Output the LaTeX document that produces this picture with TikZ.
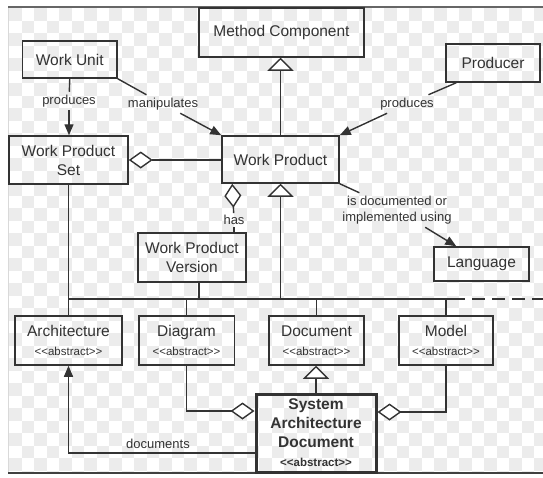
\documentclass[tikz,border=0pt]{standalone}
\usepackage{fontspec}
\setmainfont{Liberation Sans}
\usetikzlibrary{arrows.meta}
\definecolor{ink}{HTML}{333333}
\definecolor{chk}{HTML}{ECECEC}
\tikzset{
  box/.style={draw=ink, line width=1.5pt, text=ink, align=center, inner sep=0pt,
    font=\fontsize{15.5}{19}\selectfont},
  sadbox/.style={box, line width=3pt, font=\bfseries\fontsize{15.5}{19}\selectfont},
  lbl/.style={text=ink, align=center, inner sep=3pt, font=\fontsize{13}{16}\selectfont},
  conn/.style={draw=ink, line width=1.4pt},
  arr/.style={-{Triangle[length=11pt,width=9pt]}},
  inh/.style={-{Triangle[length=13pt,width=26pt,fill=white]}},
  aggr/.style={{Diamond[length=24pt,width=17pt,fill=white]}-},
}
\newcommand{\abst}{{\fontsize{11.5}{18}\selectfont <\kern0pt<abstract>\kern0pt>}}
\begin{document}
\begin{tikzpicture}[x=1pt,y=-1pt]
\useasboundingbox (0,0) rectangle (543,477);
% background checkerboard
\begin{scope}
  \clip (8,7) rectangle (543,473);
  \foreach \j in {0,...,37}{
    \foreach \i in {0,2,...,42}{
      \pgfmathsetmacro\xx{9+(\i+mod(\j,2))*12.5}
      \pgfmathsetmacro\yy{8+\j*12.5}
      \fill[chk] (\xx,\yy) rectangle ++(12.5,12.5);
    }
  }
\end{scope}
\draw[line width=0.8pt, black!15] (8,7) -- (8,473);
\draw[line width=1.5pt, black!60] (8,7) -- (543,7);
\draw[line width=1.5pt, black!75] (8,473) -- (543,473);

% boxes
\node[box, minimum width=165pt, minimum height=49pt] (mc) at (281.5,32.5) {Method Component};
\node[box, minimum width=94.5pt, minimum height=37pt] (wu) at (69.75,59.5) {Work Unit};
\node[box, minimum width=94pt, minimum height=38pt] (prod) at (493,63) {Producer};
\node[box, minimum width=117pt, minimum height=47pt] (wp) at (280.5,159.5) {Work Product};
\node[box, minimum width=119pt, minimum height=48pt] (wps) at (68.5,160) {Work Product\\Set};
\node[box, minimum width=108pt, minimum height=49pt] (wpv) at (192,257.5) {Work Product\\Version};
\node[box, minimum width=95pt, minimum height=34pt] (lang) at (481.5,264) {Language};
\node[box, minimum width=107pt, minimum height=49pt] (arch) at (68.5,340.5) {Architecture\\\abst};
\node[box, minimum width=95.5pt, minimum height=49pt] (diag) at (186.5,340.5) {Diagram\\\abst};
\node[box, minimum width=95pt, minimum height=49pt] (doc) at (316.5,340.5) {Document\\\abst};
\node[box, minimum width=94pt, minimum height=49pt] (model) at (446,340.5) {Model\\\abst};
\node[sadbox, minimum width=120pt, minimum height=78pt] (sad) at (316,433) {System\\Architecture\\Document\\\abst};

% labels
\node[lbl] (lprod1) at (69,101) {produces};
\node[lbl] (lmanip) at (163,104) {manipulates};
\node[lbl] (lprod2) at (407,104) {produces};
\node[lbl, inner sep=2pt] (lhas) at (234,220) {has};
\node[lbl] (ldoc) at (397,210) {is documented or\\implemented using};
\node[lbl] (ldocs) at (158,444) {documents};

% bus
\coordinate (busL) at (69,299);
\coordinate (busM) at (465,299);
\coordinate (busR) at (543,299);
\draw[conn] (busL) -- (busM);
\draw[conn, dash pattern=on 13pt off 7pt, dash phase=13pt] (busM) -- (busR);

% connectors
\draw[conn, inh] (wp.north) -- (wp.north |- mc.south);
\draw[conn] (wu.south) -- (lprod1);
\draw[conn, arr] (lprod1) -- (lprod1 |- wps.north);
\draw[conn] (wu.south east) -- (lmanip);
\draw[conn, arr] (lmanip) -- (wp.north west);
\draw[conn] ([xshift=11pt]prod.south west) -- (lprod2);
\draw[conn, arr] (lprod2) -- (wp.north east);
\draw[conn, aggr] (wps.east) -- (wps.east -| wp.west);
\draw[conn, aggr] ([xshift=11pt]wp.south west) -- (lhas);
\draw[conn] (lhas) -- (lhas |- wpv.north);
\draw[conn] (wp.south east) -- (ldoc);
\draw[conn, arr] (ldoc) -- ([xshift=23pt]lang.north west);
\draw[conn, inh] (wp.south |- busL) -- (wp.south);
\draw[conn] (wps.south) -- (wps.south |- busL);
\draw[conn] ([xshift=7pt]wpv.south) -- ([xshift=7pt]wpv.south |- busL);
\draw[conn] (arch.north) -- (arch.north |- busL);
\draw[conn] (diag.north) -- (diag.north |- busL);
\draw[conn] (doc.north) -- (doc.north |- busL);
\draw[conn] (model.north) -- (model.north |- busL);
\draw[conn, inh] (sad.north) -- (sad.north |- doc.south);
\draw[conn, aggr] ([yshift=22pt]sad.west) -| (diag.south);
\draw[conn, aggr] ([yshift=21pt]sad.east) -| (model.south);
\draw[conn, arr] ([yshift=-20pt]sad.west) -| (arch.south);
\end{tikzpicture}
\end{document}
